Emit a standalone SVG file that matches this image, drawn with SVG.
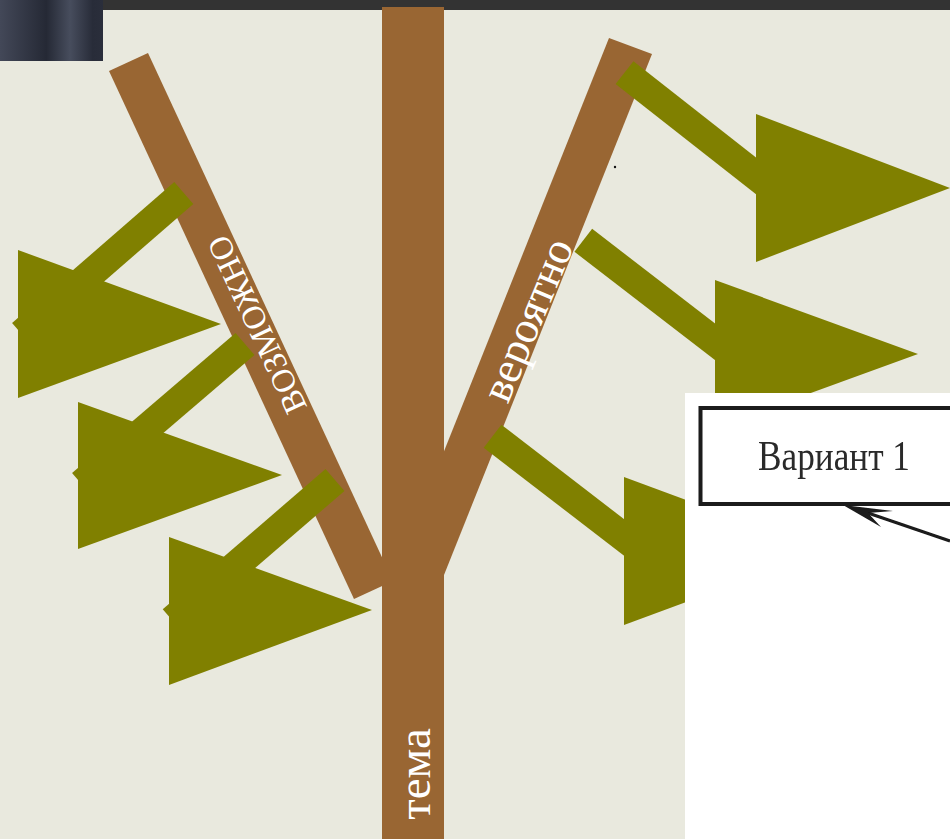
<svg xmlns="http://www.w3.org/2000/svg" width="950" height="839" viewBox="0 0 950 839">
  <defs>
    <linearGradient id="corner" x1="0" y1="0" x2="1" y2="0">
      <stop offset="0" stop-color="#434858"/>
      <stop offset="0.45" stop-color="#252935"/>
      <stop offset="0.68" stop-color="#474d5d"/>
      <stop offset="0.9" stop-color="#282c39"/>
      <stop offset="1" stop-color="#2a2e3b"/>
    </linearGradient>
    <filter id="soft" x="-5%" y="-20%" width="110%" height="140%">
      <feGaussianBlur stdDeviation="0.6"/>
    </filter>
    <style>
      .branch { fill: #996633; }
      .shaft { stroke: #808000; stroke-width: 29; stroke-linecap: butt; fill: none; }
      .head { fill: #808000; }
      .lbl { fill: #ffffff; font-family: 'Liberation Serif', 'Times New Roman', 'DejaVu Serif', serif; text-anchor: middle; }
      .boxtxt { fill: #2a2a2a; font-family: 'Liberation Serif', 'Times New Roman', 'DejaVu Serif', serif; }
    </style>
  </defs>

  <!-- background -->
  <rect x="0" y="0" width="950" height="839" fill="#e9e9de"/>

  <!-- top frame -->
  <rect x="103" y="0" width="847" height="10" fill="#333333"/>
  <rect x="0" y="0" width="103" height="61" fill="url(#corner)"/>

  <!-- branches -->
  <g id="node-vozmozhno">
    <polygon class="branch" points="109,71 148,53 393,581 354,599"/>
  </g>
  <g id="node-veroyatno">
    <polygon class="branch" points="609,38 652,54 444,575 401,559"/>
  </g>
  <g id="node-tema">
    <rect class="branch" x="382" y="7" width="62" height="832"/>
    <text class="lbl" font-family="Liberation Serif, serif" x="430" y="774" font-size="47" transform="rotate(-90 430 774)">тема</text>
  </g>

  <!-- connectors -->
  <g id="connectors">
    <line class="shaft" x1="183.8" y1="193" x2="21.6" y2="334"/>
    <polygon class="head" points="18,250 18,398 221,324"/>
    <line class="shaft" x1="245" y1="344" x2="81.5" y2="484"/>
    <polygon class="head" points="78,402 78,549 282,475"/>
    <line class="shaft" x1="335" y1="480" x2="172.2" y2="620.3"/>
    <polygon class="head" points="169,537 169,685 372,610"/>

    <line class="shaft" x1="624.5" y1="72.7" x2="794.5" y2="206"/>
    <polygon class="head" points="756,114 756,262 950,188"/>
    <line class="shaft" x1="583.3" y1="240.3" x2="754.3" y2="372"/>
    <polygon class="head" points="715,280 715,428 918,354"/>
    <line class="shaft" x1="492.5" y1="436.2" x2="663.8" y2="568"/>
    <polygon class="head" points="624,477 624,625 824,551"/>
  </g>

  <!-- branch labels -->
  <g id="labels">
    <text class="lbl" font-family="Liberation Serif, serif" x="267" y="320" font-size="33" transform="rotate(-115 267 320)">ВОЗМОЖНО</text>
    <text class="lbl" font-family="Liberation Serif, serif" x="541" y="325.5" font-size="45" transform="rotate(-67.3 541 325.5)">вероятно</text>
  </g>

  <circle cx="615" cy="167" r="1.2" fill="#111"/>

  <!-- white panel with box -->
  <rect x="685" y="393" width="265" height="446" fill="#ffffff"/>
  <g id="node-variant1" filter="url(#soft)">
    <rect x="700.5" y="408" width="300" height="96" fill="#ffffff" stroke="#1a1a1a" stroke-width="4"/>
    <text class="boxtxt" font-family="Liberation Serif, serif" x="758" y="470" font-size="42" textLength="152" lengthAdjust="spacingAndGlyphs">Вариант 1</text>
  </g>
  <g id="connector-variant1" filter="url(#soft)">
    <line x1="868" y1="513" x2="950" y2="541" stroke="#1a1a1a" stroke-width="3"/>
    <polygon points="843,505 893,511 868,513 881,527" fill="#1a1a1a"/>
  </g>
</svg>
